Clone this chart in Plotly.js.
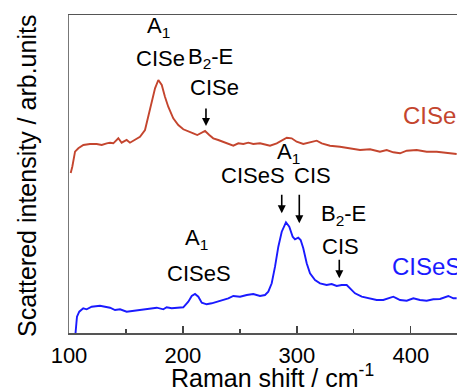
<!DOCTYPE html>
<html>
<head>
<meta charset="utf-8">
<script src="https://cdn.plot.ly/plotly-3.0.1.min.js"></script>
<style>html,body{margin:0;padding:0;overflow:hidden;background:#fff}</style>
</head>
<body>
<div id="chart" style="width:457px;height:388px"></div>
<script>
// Raman shift (cm^-1) and intensity (arb. units)
const ciseShift = [101.5,102.9,105.3,108.2,112.6,118.4,124.3,128.7,133.1,136,138.9,143.3,146.2,150.6,153.5,157.9,162.3,166.7,169.6,172.6,175.5,178.4,181.4,184.2,187.1,191.5,195.9,200.3,204.7,209.1,212.6,215.6,219.4,223.1,226.6,231,235.4,239.8,244.2,248.6,253,257.4,261.7,267.6,276.4,282.3,288.1,291.1,295.4,299.8,305.6,311.5,317.4,321.8,329,337.8,346.6,355.4,364.2,372.9,378.8,384.6,390.5,396.4,405.1,413.9,422.7,431.5,440.2];
const ciseInt = [160,166.3,181.3,184.7,188,189,189,188,189.7,190.3,189.7,194.7,190.3,193,190.3,193,196.3,203,216.3,233,244.7,253,248,236.3,226.3,214.7,208,203.7,201.3,199.7,198,199.7,202,198,194.7,193,191.3,189.7,187.3,189.7,189,190.3,189,189.7,187.3,189.7,193,195.3,194.7,191.3,189,190.3,192.3,189.7,187.3,186.3,184.7,183,183.7,181.3,183,180.7,179.7,182.3,183,181.3,181.3,180.3,179];

const ciseSShift = [101,105.5,106.5,107,109,112.5,115.5,119.9,127.2,131.6,136,140.4,144.8,150.6,155,159.4,165.2,171.1,177,182.8,185.7,190.1,195.9,200.3,204.7,207.7,210.6,213.5,216.5,220.8,225.2,229.6,235.4,239.8,244.2,250.1,256,261.7,267.6,272,274.9,277.9,280.8,283.7,286.7,290.4,293.3,296.3,298.3,301.2,303.3,305.6,308.6,311.5,315.9,320.3,326.1,330.5,334.9,339.3,343.7,346.6,351,356.9,364.2,370,375.8,380.2,384.6,387.6,390.5,396.4,402.2,408,413.9,419.7,425.6,432.9,437.3,440.2];
const ciseSInt = [-10,-3,10,16.3,21.3,24.7,23.7,26.3,27.3,26.3,25.3,23,23.7,21.3,22,23,23.7,24.7,25.3,23.7,25.7,24.7,25.7,25.7,31.3,37,39,36.3,30.3,28.7,29.7,31.3,33,34.7,37,36.3,38,39,37,38,41.3,49.7,66.3,86.3,101.3,110.7,106.3,96.3,93.7,95.3,93,84.7,69.7,59.7,53,49.7,48,49,47,48,48,44.7,39.7,36.3,34.7,33,33,34.7,36.3,34.7,33,32.3,34.7,33,32.3,33.7,34,37,34.7,34.7];

const seriesNames = ['CISe', 'CISeS'];
const xTicks = [100, 200, 300, 400];
const xTickText = ['100', '200', '300', '400'];

const RED = '#c4452e';
const BLUE = '#1a1aff';
const FONT = 'Liberation Sans, Arial, sans-serif';

const traces = [
  {x: ciseShift, y: ciseInt, mode: 'lines', name: seriesNames[0], line: {color: RED, width: 1.9}, hoverinfo: 'skip'},
  {x: ciseSShift, y: ciseSInt, mode: 'lines', name: seriesNames[1], line: {color: BLUE, width: 1.9}, hoverinfo: 'skip'}
];

function label(text, x, y, opts) {
  return Object.assign({text: text, x: x, y: y, xref: 'x', yref: 'y', showarrow: false,
    xanchor: 'center', yanchor: 'middle', font: {family: FONT, size: 22, color: '#000'}}, opts || {});
}
function arrow(x, y, ay) {
  return {text: '', x: x, y: y, xref: 'x', yref: 'y', showarrow: true, ax: 0, ay: ay,
    arrowhead: 2, arrowsize: 1, arrowwidth: 1.6, arrowcolor: '#000', standoff: 0};
}

const annotations = [
  label('A<sub>1</sub>', 178.7, 306.3),
  label('CISe', 180.7, 275),
  label('B<sub>2</sub>-E', 224.6, 275.5),
  label('CISe', 227.3, 245.5),
  arrow(220.2, 207, -19),
  label('A<sub>1</sub>', 292.5, 180.5),
  label('CISeS', 261.7, 157.2),
  label('CIS', 313.7, 157.2),
  arrow(286.7, 119.7, -20),
  arrow(302.1, 109.7, -30),
  label('B<sub>2</sub>-E', 341.3, 118.2),
  label('CIS', 338.3, 86.3),
  arrow(337.2, 54.7, -20),
  label('A<sub>1</sub>', 211.5, 94),
  label('CISeS', 213.8, 60),
  label(seriesNames[0], 416.5, 218, {font: {family: FONT, size: 24, color: RED}}),
  label(seriesNames[1], 413.5, 67, {font: {family: FONT, size: 24, color: BLUE}}),
  {text: 'Scattered intensity / arb.units', xref: 'paper', yref: 'paper', x: 0, y: 0.5,
   xshift: -42, yshift: -2, textangle: -90, showarrow: false, xanchor: 'center', yanchor: 'middle',
   font: {family: FONT, size: 25, color: '#000'}},
  {text: 'Raman shift / cm<sup>-1</sup>', xref: 'paper', yref: 'paper', x: 0.5, y: 0,
   xshift: 9, yshift: -43, showarrow: false, xanchor: 'center', yanchor: 'middle',
   font: {family: FONT, size: 25, color: '#000'}}
];

const layout = {
  width: 457, height: 388,
  margin: {l: 69, r: 0, t: 15, b: 55},
  paper_bgcolor: '#fff', plot_bgcolor: '#fff',
  showlegend: false,
  xaxis: {
    range: [100, 440.5], tickvals: xTicks, ticktext: xTickText,
    ticks: 'inside', ticklen: 7, tickwidth: 1.2, tickcolor: '#444',
    minor: {dtick: 50, tick0: 0, ticks: 'inside', ticklen: 4, tickwidth: 1.2, tickcolor: '#444'},
    showline: true, linecolor: '#555', linewidth: 1.5, mirror: true,
    showgrid: false, zeroline: false, ticklabelstandoff: 2,
    tickfont: {family: FONT, size: 22, color: '#000'}
  },
  yaxis: {
    range: [0, 318], showticklabels: false, ticks: '',
    showline: true, linecolor: '#777', linewidth: 1.5,
    showgrid: false, zeroline: false
  },
  annotations: annotations
};

Plotly.newPlot('chart', traces, layout, {displayModeBar: false, staticPlot: true});
</script>
</body>
</html>
